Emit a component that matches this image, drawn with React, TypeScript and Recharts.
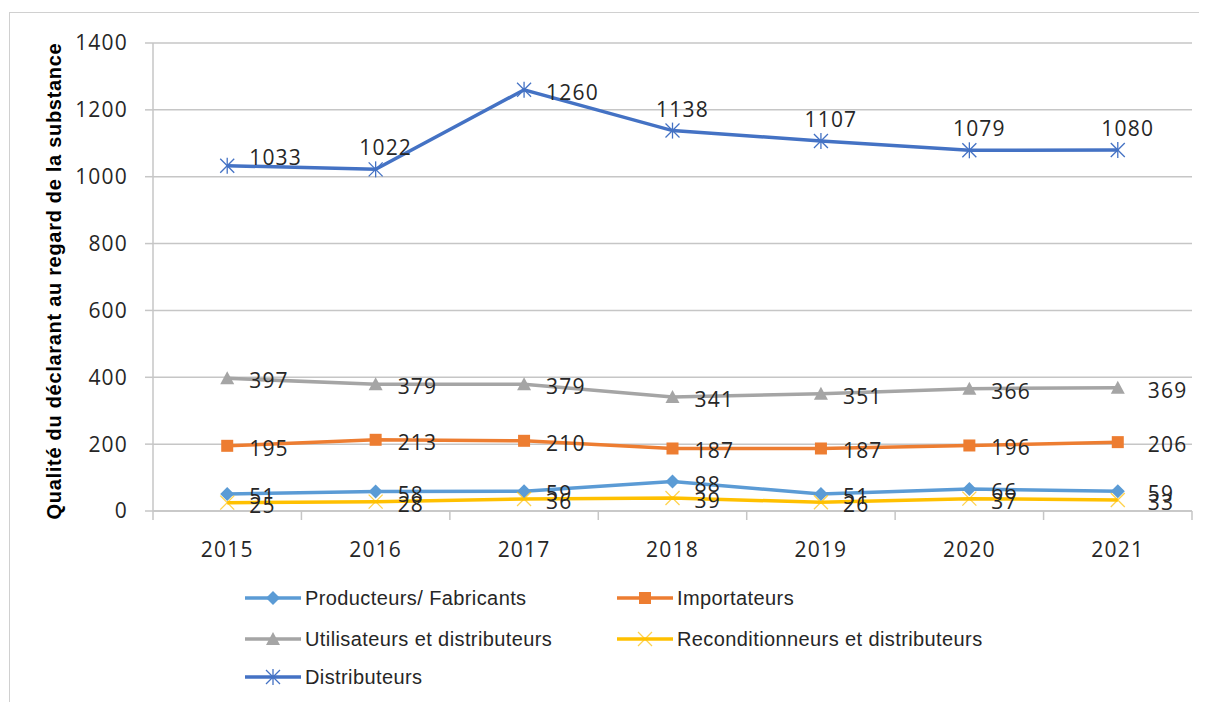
import { LineChart, Line, XAxis, YAxis, CartesianGrid, Legend, LabelList } from 'recharts';

const years = ['2015', '2016', '2017', '2018', '2019', '2020', '2021'];
const producteurs = [51, 58, 59, 88, 51, 66, 59];
const importateurs = [195, 213, 210, 187, 187, 196, 206];
const utilisateurs = [397, 379, 379, 341, 351, 366, 369];
const reconditionneurs = [25, 28, 36, 39, 26, 37, 33];
const distributeurs = [1033, 1022, 1260, 1138, 1107, 1079, 1080];
const yTicks = [0, 200, 400, 600, 800, 1000, 1200, 1400];

const series = [
    { key: 'prod', name: 'Producteurs/ Fabricants', color: '#5B9BD5', shape: 'diamond', values: producteurs },
    { key: 'imp', name: 'Importateurs', color: '#ED7D31', shape: 'square', values: importateurs },
    { key: 'util', name: 'Utilisateurs et distributeurs', color: '#A5A5A5', shape: 'triangle', values: utilisateurs },
    { key: 'recond', name: 'Reconditionneurs et distributeurs', color: '#FFC000', shape: 'x', values: reconditionneurs },
    { key: 'dist', name: 'Distributeurs', color: '#4472C4', shape: 'star', values: distributeurs },
];

const data = years.map((year, i) => {
    const row: Record<string, number | string> = { year };
    series.forEach((s) => (row[s.key] = s.values[i]));
    return row;
});

const W = 1199;
const H = 694;
const PLOT_LEFT = 145;
const PLOT_RIGHT = 1184;
const PLOT_BOTTOM = 503;
const BAND = (PLOT_RIGHT - PLOT_LEFT) / years.length;
const GRID = '#C6C6C6';
const NUM_FONT = '"Open Sans", sans-serif';
const NUM_SPACING = 1.2;
const LEGEND_ROWS = [37, 78, 116];

function Marker({ cx, cy, shape, color }: any) {
    if (cx == null || cy == null) return null;
    switch (shape) {
        case 'diamond':
            return <polygon points={`${cx},${cy - 7} ${cx + 7},${cy} ${cx},${cy + 7} ${cx - 7},${cy}`} fill={color} />;
        case 'square':
            return <rect x={cx - 6} y={cy - 6} width={12} height={12} fill={color} />;
        case 'triangle':
            return <polygon points={`${cx},${cy - 7} ${cx + 7},${cy + 6} ${cx - 7},${cy + 6}`} fill={color} />;
        case 'x':
            return (
                <g stroke={color} strokeWidth={1.3} opacity={0.7}>
                    <line x1={cx - 7} y1={cy - 7} x2={cx + 7} y2={cy + 7} />
                    <line x1={cx - 7} y1={cy + 7} x2={cx + 7} y2={cy - 7} />
                </g>
            );
        default:
            return (
                <g stroke={color} strokeWidth={1.3}>
                    <line x1={cx - 7} y1={cy - 7} x2={cx + 7} y2={cy + 7} />
                    <line x1={cx - 7} y1={cy + 7} x2={cx + 7} y2={cy - 7} />
                    <line x1={cx} y1={cy - 8} x2={cx} y2={cy + 8} />
                </g>
            );
    }
}

function DataLabel({ x, y, value, index, above }: any) {
    const style = { fontFamily: NUM_FONT, fontSize: 21, fill: '#262626', letterSpacing: NUM_SPACING };
    if (above && index !== 0 && index !== 2) {
        return (
            <text x={x + 10} y={y - 22} textAnchor="middle" dominantBaseline="central" {...style}>
                {value}
            </text>
        );
    }
    const dy = above && index === 0 ? -9 : 2;
    return (
        <text x={x + (index === years.length - 1 ? 30 : 22)} y={y + dy} dominantBaseline="central" {...style}>
            {value}
        </text>
    );
}

function YearTick({ x, payload, index }: any) {
    const left = x - BAND / 2;
    return (
        <g>
            <line x1={left} x2={left} y1={PLOT_BOTTOM} y2={PLOT_BOTTOM + 9} stroke={GRID} strokeWidth={1.5} />
            {index === years.length - 1 && (
                <line x1={x + BAND / 2} x2={x + BAND / 2} y1={PLOT_BOTTOM} y2={PLOT_BOTTOM + 9} stroke={GRID} strokeWidth={1.5} />
            )}
            <text x={x} y={PLOT_BOTTOM + 38} textAnchor="middle" dominantBaseline="central"
                fontFamily={NUM_FONT} fontSize={21} fill="#262626" letterSpacing={NUM_SPACING}>
                {payload.value}
            </text>
        </g>
    );
}

function LegendBox() {
    return (
        <div style={{ position: 'relative', width: W, height: 130 }}>
            {series.map((s, i) => (
                <div key={s.key} style={{
                    position: 'absolute', left: i % 2 === 0 ? 237 : 609, top: LEGEND_ROWS[Math.floor(i / 2)] - 12,
                    height: 24, display: 'flex', alignItems: 'center',
                }}>
                    <svg width={56} height={18}>
                        <line x1={0} x2={56} y1={9} y2={9} stroke={s.color} strokeWidth={3.5} />
                        <Marker cx={28} cy={9} shape={s.shape} color={s.color} />
                    </svg>
                    <span style={{
                        marginLeft: 4, fontFamily: '"Liberation Sans", Arial, sans-serif', fontSize: 20,
                        letterSpacing: 0.4, color: '#262626',
                    }}>
                        {s.name}
                    </span>
                </div>
            ))}
        </div>
    );
}

export default function App() {
    return (
        <div style={{ position: 'relative', width: W, height: H }}>
            <div style={{
                position: 'absolute', left: 1, top: 4, right: -8, bottom: 0,
                borderTop: '1px solid #D0D0D0', borderLeft: '1px solid #D0D0D0',
            }} />
            <LineChart width={W} height={H} data={data} margin={{ top: 35, right: 15, bottom: 11, left: 0 }}>
                <CartesianGrid vertical={false} stroke={GRID} strokeWidth={1.5} />
                <XAxis dataKey="year" height={50} padding={{ left: BAND / 2, right: BAND / 2 }}
                    axisLine={{ stroke: GRID, strokeWidth: 1.5 }} tickLine={false} tick={<YearTick />} interval={0} />
                <YAxis width={145} domain={[0, 1400]} ticks={yTicks} interval={0}
                    axisLine={{ stroke: GRID, strokeWidth: 1.5 }} tickLine={{ stroke: GRID, strokeWidth: 1.5 }}
                    tickSize={8} tickMargin={17}
                    tick={{ fontFamily: NUM_FONT, fontSize: 21, fill: '#262626', letterSpacing: NUM_SPACING }}
                    label={() => (
                        <text x={46} y={273} transform="rotate(-90 46 273)" textAnchor="middle" dominantBaseline="central"
                            fontFamily='"Liberation Sans", Arial, sans-serif' fontWeight="bold" fontSize={20}
                            letterSpacing={0.7} fill="#000">
                            Qualité du déclarant au regard de la substance
                        </text>
                    )} />
                <Legend verticalAlign="bottom" height={130} wrapperStyle={{ left: 0, width: W, bottom: 11 }}
                    content={() => <LegendBox />} />
                {series.map((s) => (
                    <Line key={s.key} dataKey={s.key} name={s.name} type="linear" stroke={s.color} strokeWidth={3.5}
                        isAnimationActive={false}
                        dot={(p: any) => <Marker key={`${s.key}-${p.index}`} cx={p.cx} cy={p.cy} shape={s.shape} color={s.color} />}
                        activeDot={false}>
                        <LabelList dataKey={s.key} content={(p: any) => <DataLabel {...p} above={s.key === 'dist'} />} />
                    </Line>
                ))}
            </LineChart>
        </div>
    );
}
